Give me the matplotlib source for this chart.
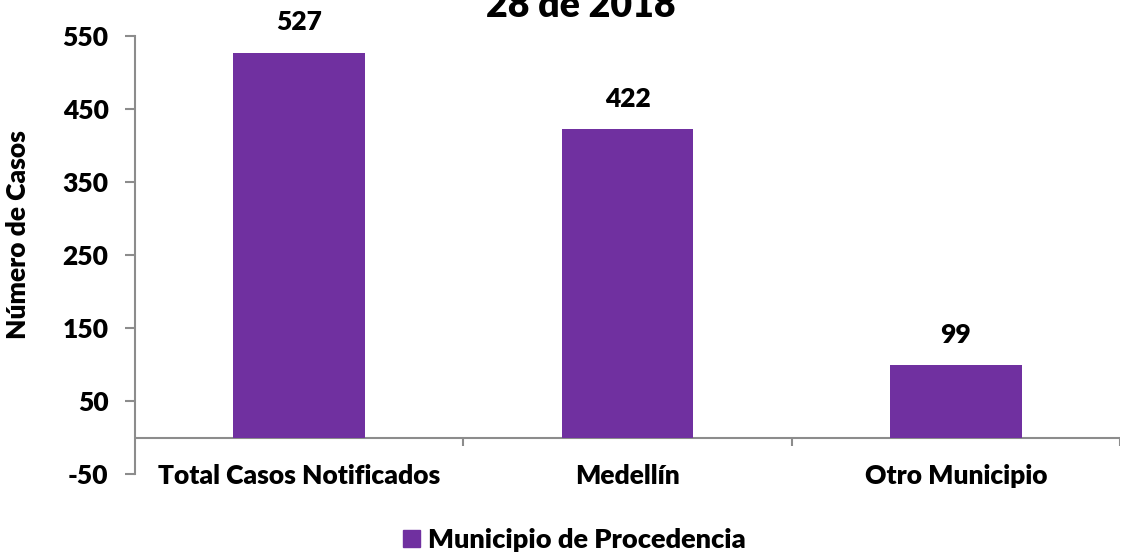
import matplotlib
matplotlib.use("Agg")
import matplotlib.pyplot as plt
from matplotlib.patches import Patch

plt.rcParams["font.family"] = ["Lato", "DejaVu Sans"]
plt.rcParams["font.weight"] = "heavy"

# datos
categorias = ["Total Casos Notificados", "Medellín", "Otro Municipio"]
casos = [527, 422, 99]
yticks = [-50, 50, 150, 250, 350, 450, 550]

PURPLE = "#7030A0"
GRAY = "#8C8C8C"
FS = 19
W = "heavy"

fig = plt.figure(figsize=(11.22, 5.53), dpi=100)
ax = fig.add_axes([135 / 1122, 79 / 553, 985 / 1122, 438 / 553])

x = range(len(categorias))
ax.bar(x, casos, width=0.4, color=PURPLE, zorder=3)

for i, v in zip(x, casos):
    ax.annotate(str(v), (i, v), xytext=(0, 22), textcoords="offset points",
                ha="center", va="center", fontsize=FS, fontweight=W)

ax.set_xlim(-0.5, 2.5)
ax.set_ylim(-50, 550)
ax.set_yticks(yticks)
ax.set_yticklabels([str(t) for t in yticks], fontsize=FS, fontweight=W)
ax.set_xticks(list(x))
ax.set_xticklabels(categorias, fontsize=FS, fontweight=W)
ax.tick_params(axis="x", length=0, pad=-7)
ax.tick_params(axis="y", length=7, color=GRAY, width=1.5, pad=12)

for s in ["top", "right", "bottom"]:
    ax.spines[s].set_visible(False)
ax.spines["left"].set_color(GRAY)
ax.spines["left"].set_linewidth(1.5)

# linea en cero con marcas entre categorias
ax.axhline(0, color=GRAY, lw=1.5, zorder=2)
ax.vlines([0.5, 1.5, 2.5], -11, 0, color=GRAY, lw=1.5)

ax.set_ylabel("Número de Casos", fontsize=FS, fontweight=W, va="center")
ax.yaxis.set_label_coords(-0.119, 0.546)

fig.text(0.518, 1 - 17 / 553, "28 de 2018", ha="center", va="baseline",
         fontsize=27, fontweight=W)

leg = fig.legend(handles=[Patch(color=PURPLE, label="Municipio de Procedencia")],
                 loc="center", bbox_to_anchor=(0.512, 1 - 540 / 553), frameon=False,
                 fontsize=FS + 0.5, handlelength=0.6, handleheight=0.6, handletextpad=0.3)
for t in leg.get_texts():
    t.set_fontweight(W)

fig.savefig("out.png", dpi=100)
